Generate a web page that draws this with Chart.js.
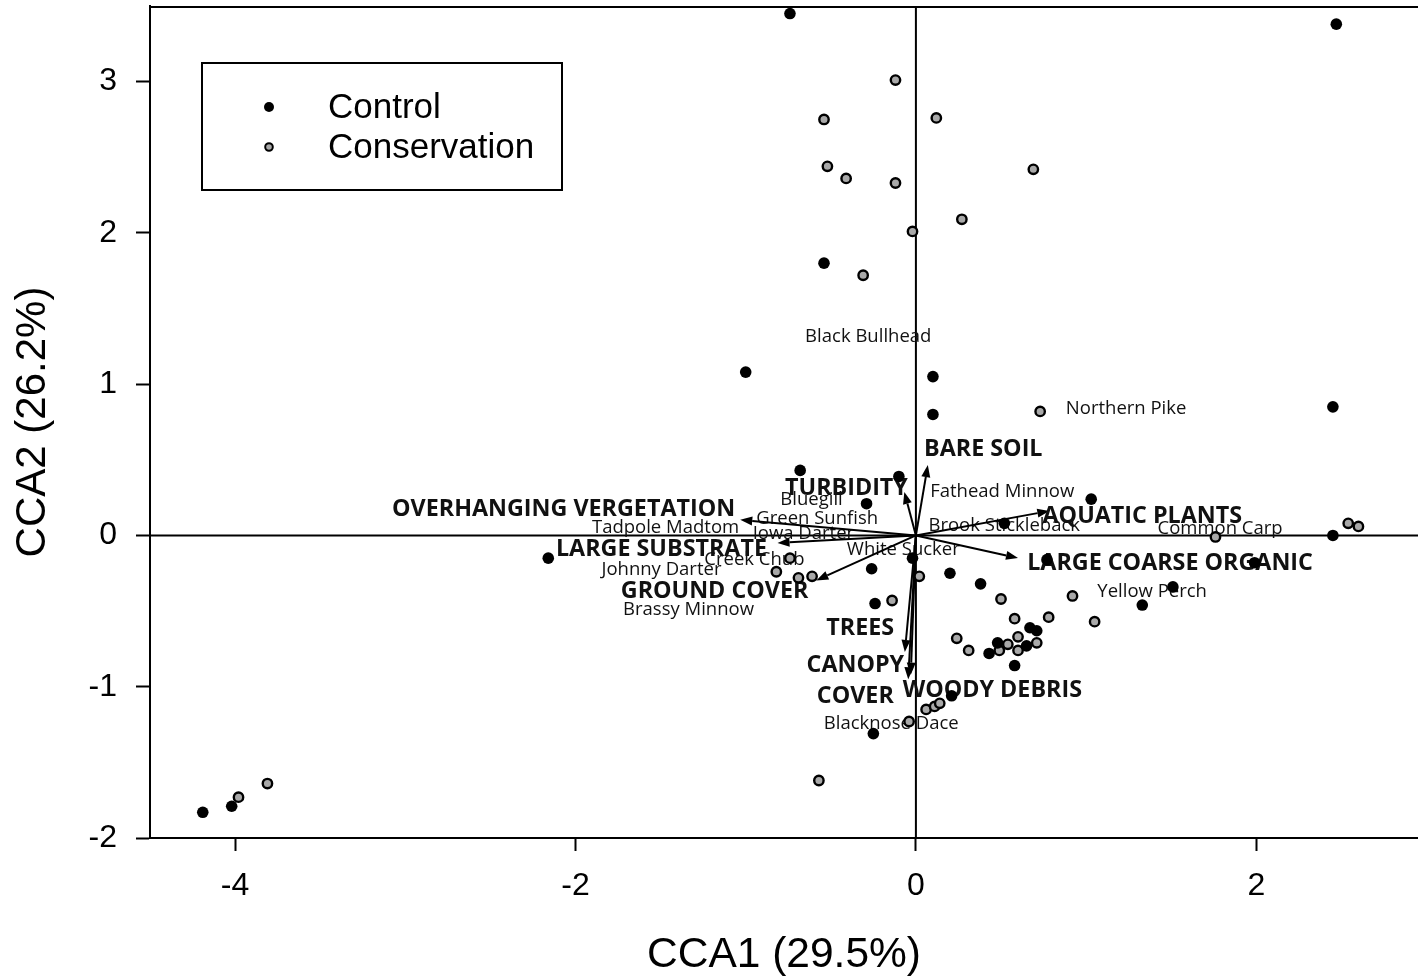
<!DOCTYPE html>
<html>
<head>
<meta charset="utf-8">
<title>CCA biplot</title>
<script src="https://cdn.jsdelivr.net/npm/chart.js@4.4.1/dist/chart.umd.min.js"></script>
<style>
  html, body { margin: 0; padding: 0; background: #fff; }
  #wrap { width: 1418px; height: 977px; }
</style>
</head>
<body>
<div id="wrap"><canvas id="cca" width="1418" height="977"></canvas></div>
<script>
// Site scores on the first two CCA axes
const controlX = [-0.74, 2.47, -0.54, -1.00, 0.10, 0.10, 2.45, -0.68, -0.10, -0.29, 1.03, 0.52, 2.45,
  -2.16, -0.02, -0.26, 0.20, 0.38, 0.77, 1.99, 1.51, 1.33, -0.24, 0.67, 0.71, 0.48, 0.43, 0.65, 0.58,
  0.21, -0.25, -4.19, -4.02];
const controlY = [3.45, 3.38, 1.80, 1.08, 1.05, 0.80, 0.85, 0.43, 0.39, 0.21, 0.24, 0.08, 0.00,
  -0.15, -0.15, -0.22, -0.25, -0.32, -0.16, -0.18, -0.34, -0.46, -0.45, -0.61, -0.63, -0.71, -0.78, -0.73, -0.86,
  -1.06, -1.31, -1.83, -1.79];

const conservationX = [-0.12, -0.54, 0.12, -0.52, -0.41, -0.12, 0.69, 0.27, -0.02, -0.31, 0.73, 1.76, 2.54,
  2.60, -0.74, -0.82, -0.69, -0.61, 0.02, -0.14, 0.50, 0.92, 1.05, 0.78, 0.58, 0.24, 0.31, 0.60, 0.54,
  0.49, 0.60, 0.71, 0.06, 0.11, 0.14, -0.04, -0.57, -3.98, -3.81];
const conservationY = [3.01, 2.75, 2.76, 2.44, 2.36, 2.33, 2.42, 2.09, 2.01, 1.72, 0.82, -0.01, 0.08,
  0.06, -0.15, -0.24, -0.28, -0.27, -0.27, -0.43, -0.42, -0.40, -0.57, -0.54, -0.55, -0.68, -0.76, -0.67, -0.72,
  -0.76, -0.76, -0.71, -1.15, -1.13, -1.11, -1.23, -1.62, -1.73, -1.64];

// Species scores
const speciesNames = ['Black Bullhead', 'Northern Pike', 'Fathead Minnow', 'Bluegill', 'Green Sunfish',
  'Tadpole Madtom', 'Iowa Darter', 'Brook Stickleback', 'Common Carp', 'White Sucker', 'Creek Chub',
  'Johnny Darter', 'Brassy Minnow', 'Yellow Perch', 'Blacknose Dace'];
const speciesX = [-0.28, 1.235, 0.507, -0.613, -0.58, -1.471, -0.661, 0.519, 1.787, -0.074, -0.949,
  -1.495, -1.336, 1.388, -0.145];
const speciesY = [1.325, 0.849, 0.301, 0.248, 0.122, 0.063, 0.023, 0.076, 0.056, -0.083, -0.149,
  -0.215, -0.479, -0.36, -1.233];

// Environmental variables: biplot arrow tips and label anchors
const envNames = ['BARE SOIL', 'TURBIDITY', 'OVERHANGING VERGETATION', 'LARGE SUBSTRATE', 'GROUND COVER',
  'TREES', ['CANOPY', 'COVER'], 'WOODY DEBRIS', 'AQUATIC PLANTS', 'LARGE COARSE ORGANIC'];
const envX = [0.07, -0.068, -1.032, -0.813, -0.585, -0.065, -0.045, -0.03, 0.784, 0.60];
const envY = [0.465, 0.288, 0.103, -0.05, -0.297, -0.77, -0.95, -0.92, 0.162, -0.149];
const envLabelX = [0.396, -0.408, -2.07, -1.495, -1.183, -0.327, -0.356, 0.449, 1.33, 1.493];
const envLabelY = [0.578, 0.321, 0.182, -0.083, -0.36, -0.605, -0.952, -1.015, 0.135, -0.175];

// Axis ticks
const xTicks = [-4, -2, 0, 2];
const yTicks = [-2, -1, 0, 1, 2, 3];

const toPoints = (xs, ys) => xs.map((v, i) => ({ x: v, y: ys[i] }));

const AXIS_FONT = '"Liberation Sans", Arial, sans-serif';
const LABEL_FONT = '"Open Sans", sans-serif';
const TEXT_NUDGE = 1.5; // optical centring of 'middle' baseline

function drawArrow(ctx, x0, y0, x1, y1) {
  const ang = Math.atan2(y1 - y0, x1 - x0);
  const len = 12, half = 4.5;
  const bx = x1 - len * Math.cos(ang), by = y1 - len * Math.sin(ang);
  ctx.beginPath();
  ctx.moveTo(x0, y0);
  ctx.lineTo(bx, by);
  ctx.stroke();
  ctx.beginPath();
  ctx.moveTo(x1, y1);
  ctx.lineTo(bx + half * Math.sin(ang), by - half * Math.cos(ang));
  ctx.lineTo(bx - half * Math.sin(ang), by + half * Math.cos(ang));
  ctx.closePath();
  ctx.fill();
}

const biplot = {
  id: 'biplot',
  beforeDatasetsDraw(chart) {
    const { ctx, chartArea: a, scales: { x, y } } = chart;
    const x0 = x.getPixelForValue(0), y0 = y.getPixelForValue(0);
    ctx.save();
    ctx.strokeStyle = '#000';
    ctx.fillStyle = '#000';
    ctx.lineWidth = 2;
    // top edge of the frame
    ctx.beginPath();
    ctx.moveTo(a.left, a.top + 1);
    ctx.lineTo(a.right, a.top + 1);
    ctx.stroke();
    // zero lines
    ctx.beginPath();
    ctx.moveTo(a.left, y0);
    ctx.lineTo(a.right, y0);
    ctx.moveTo(x0, a.top);
    ctx.lineTo(x0, a.bottom);
    ctx.stroke();

    // species names at their scores
    ctx.font = '18.5px ' + LABEL_FONT;
    ctx.fillStyle = '#111';
    ctx.textAlign = 'center';
    ctx.textBaseline = 'middle';
    speciesNames.forEach((n, i) => {
      ctx.fillText(n, x.getPixelForValue(speciesX[i]), y.getPixelForValue(speciesY[i]) + TEXT_NUDGE);
    });

    // environmental arrows
    ctx.fillStyle = '#000';
    ctx.lineWidth = 2;
    envNames.forEach((_, i) => {
      drawArrow(ctx, x0, y0, x.getPixelForValue(envX[i]), y.getPixelForValue(envY[i]));
    });

    // environmental variable names
    ctx.font = 'bold 23.3px ' + LABEL_FONT;
    ctx.fillStyle = '#111';
    envNames.forEach((n, i) => {
      const lines = Array.isArray(n) ? n : [n];
      const cx = x.getPixelForValue(envLabelX[i]);
      const cy = y.getPixelForValue(envLabelY[i]) + TEXT_NUDGE;
      const lh = 31;
      lines.forEach((ln, k) => {
        ctx.fillText(ln, cx, cy + (k - (lines.length - 1) / 2) * lh);
      });
    });
    ctx.restore();
  },
  afterDraw(chart) {
    // boxed legend in the upper left
    const { ctx, chartArea: a } = chart;
    const bx = a.left + 52, by = a.top + 57, bw = 360, bh = 127;
    ctx.save();
    ctx.fillStyle = '#fff';
    ctx.fillRect(bx, by, bw, bh);
    ctx.strokeStyle = '#000';
    ctx.lineWidth = 2;
    ctx.strokeRect(bx, by, bw, bh);
    ctx.font = '35px ' + AXIS_FONT;
    ctx.textAlign = 'left';
    ctx.textBaseline = 'middle';
    chart.data.datasets.forEach((ds, i) => {
      const my = by + 44 + i * 40;
      ctx.beginPath();
      ctx.arc(bx + 67, my, i === 0 ? 5 : 3.8, 0, Math.PI * 2);
      ctx.fillStyle = ds.backgroundColor;
      ctx.fill();
      if (ds.borderWidth) {
        ctx.lineWidth = 2;
        ctx.strokeStyle = ds.borderColor;
        ctx.stroke();
      }
      ctx.fillStyle = '#000';
      ctx.fillText(ds.label, bx + 126, my + 1);
    });
    ctx.restore();
  }
};

function pinAxis(size) {
  return function (s) {
    if (s.isHorizontal()) s.height = size; else s.width = size;
    s.paddingTop = 0; s.paddingBottom = 0; s.paddingLeft = 0; s.paddingRight = 0;
  };
}

new Chart(document.getElementById('cca'), {
  type: 'scatter',
  data: {
    datasets: [
      {
        label: 'Control',
        data: toPoints(controlX, controlY),
        backgroundColor: '#000',
        borderColor: '#000',
        borderWidth: 0,
        pointRadius: 5.8,
        pointHoverRadius: 5.8
      },
      {
        label: 'Conservation',
        data: toPoints(conservationX, conservationY),
        backgroundColor: '#a9a9a9',
        borderColor: '#000',
        borderWidth: 2.4,
        pointRadius: 4.7,
        pointHoverRadius: 4.7
      }
    ]
  },
  options: {
    responsive: false,
    animation: false,
    layout: { autoPadding: false, padding: { top: 6, right: 0, bottom: 0, left: 0 } },
    plugins: {
      legend: { display: false },
      tooltip: { enabled: false }
    },
    scales: {
      x: {
        type: 'linear',
        position: 'bottom',
        min: -4.5,
        max: 2.95,
        afterBuildTicks: s => { s.ticks = xTicks.map(v => ({ value: v })); },
        afterFit: pinAxis(139),
        grid: { drawOnChartArea: false, drawTicks: true, tickLength: 13, tickWidth: 2, tickColor: '#000' },
        border: { display: true, color: '#000', width: 2 },
        ticks: { color: '#000', padding: 16, font: { family: AXIS_FONT, size: 32 } },
        title: {
          display: true,
          text: 'CCA1 (29.5%)',
          color: '#000',
          font: { family: AXIS_FONT, size: 42.5, lineHeight: 1.0 },
          padding: { top: 1, bottom: 0 }
        }
      },
      y: {
        type: 'linear',
        position: 'left',
        min: -2,
        max: 3.5,
        afterBuildTicks: s => { s.ticks = yTicks.map(v => ({ value: v })); },
        afterFit: pinAxis(150),
        grid: { drawOnChartArea: false, drawTicks: true, tickLength: 14, tickWidth: 2, tickColor: '#000' },
        border: { display: true, color: '#000', width: 2 },
        ticks: { color: '#000', padding: 19, font: { family: AXIS_FONT, size: 32 } },
        title: {
          display: true,
          text: 'CCA2 (26.2%)',
          color: '#000',
          font: { family: AXIS_FONT, size: 42, lineHeight: 1.0 },
          padding: { top: 12, bottom: 0 }
        }
      }
    }
  },
  plugins: [biplot]
});
</script>
</body>
</html>
